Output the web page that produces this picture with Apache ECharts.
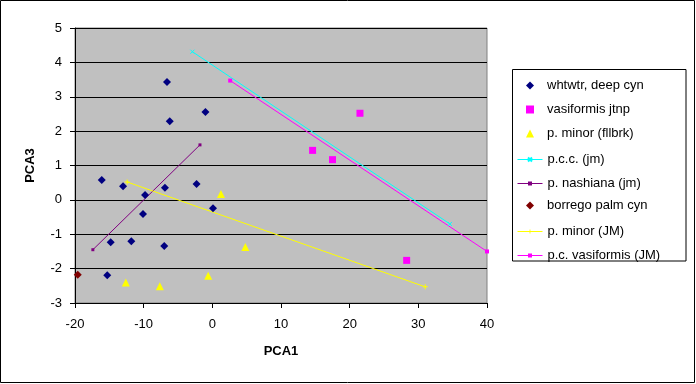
<!DOCTYPE html>
<html>
<head>
<meta charset="utf-8">
<script src="https://cdn.jsdelivr.net/npm/echarts@6/dist/echarts.min.js"></script>
<style>html,body{margin:0;padding:0;background:#fff}#c{width:696px;height:384px}</style>
</head>
<body>
<div id="c"></div>
<script>
const seriesNames = ['whtwtr, deep cyn','vasiformis jtnp','p. minor (fllbrk)','p.c.c. (jm)','p. nashiana (jm)','borrego palm cyn','p. minor (JM)','p.c. vasiformis (JM)'];
const xTicks = [-20,-10,0,10,20,30,40];
const yTicks = [-3,-2,-1,0,1,2,3,4,5];

const whtwtr = [[-6.6,3.43],[-1.0,2.56],[-6.2,2.29],[-16.1,0.58],[-13.0,0.40],[-6.9,0.35],[-2.3,0.46],[-9.8,0.14],[0.1,-0.24],[-10.1,-0.41],[-14.8,-1.23],[-11.8,-1.20],[-7.0,-1.34],[-15.3,-2.19]];
const vasiJtnp = [[21.5,2.52],[14.6,1.44],[17.5,1.17],[28.3,-1.76]];
const minorFllbrk = [[1.25,0.17],[4.8,-1.37],[-0.6,-2.21],[-12.6,-2.40],[-7.65,-2.51]];
const pccJm = [[-2.9,4.31],[34.6,-0.70]];
const nashianaJm = [[-17.4,-1.45],[-1.8,1.60]];
const borrego = [[-19.6,-2.18]];
const minorJM = [[-12.4,0.52],[31.0,-2.53]];
const pcVasiJM = [[2.6,3.47],[40.0,-1.50]];

const font = 'Liberation Sans, Arial, sans-serif';
const crossPath = 'path://M0,0L10,10M10,0L0,10';
const plusPath = 'path://M4,0H6V4H10V6H6V10H4V6H0V4H4Z';

function lineSeries(name, data, color, symbol, size) {
  return {name, type:'line', data, symbol, symbolSize:size, showSymbol:true,
    lineStyle:{color, width:1}, itemStyle:{color, borderColor:color, borderWidth: symbol===crossPath?1:0},
    emphasis:{disabled:true}, z:3, animation:false};
}
function scatterSeries(name, data, color, symbol, size) {
  return {name, type:'scatter', data, symbol, symbolSize:size, itemStyle:{color, opacity:1},
    emphasis:{disabled:true}, z:4, animation:false};
}

const series = [
  scatterSeries(seriesNames[0], whtwtr, '#000080', 'diamond', 8),
  scatterSeries(seriesNames[1], vasiJtnp, '#FF00FF', 'rect', 7),
  scatterSeries(seriesNames[2], minorFllbrk, '#FFFF00', 'triangle', 8),
  lineSeries(seriesNames[3], pccJm, '#00FFFF', crossPath, 4),
  lineSeries(seriesNames[4], nashianaJm, '#800080', 'rect', 3),
  scatterSeries(seriesNames[5], borrego, '#800000', 'diamond', 8),
  lineSeries(seriesNames[6], minorJM, '#FFFF00', plusPath, 5),
  lineSeries(seriesNames[7], pcVasiJM, '#FF00FF', 'rect', 4)
];

const isLine = [false,false,false,true,true,false,true,true];
const legends = seriesNames.map((n,i) => {
  const cy = 83 + 24*i;
  const line = isLine[i];
  const h = line ? 5 : 8;
  return {data:[n], left: line ? 517 : 526, top: line ? cy - 2 : cy - 4, padding:0,
    itemWidth: line ? 25 : 8, itemHeight:h, selectedMode:false,
    lineStyle:{width:1},
    textStyle:{fontFamily:font, fontSize:13, color:'#000', padding:[0,0,0, line ? 0 : 8]}};
});

const chart = echarts.init(document.getElementById('c'), null, {renderer:'canvas'});
chart.setOption({
  animation:false,
  backgroundColor:'#fff',
  grid:{left:75, top:28, right:209, bottom:81, show:true, backgroundColor:'#C0C0C0', borderColor:'#808080', borderWidth:1, containLabel:false},
  xAxis:{type:'value', min:xTicks[0], max:xTicks[xTicks.length-1], interval:10,
    name:'PCA1', nameLocation:'middle', nameGap:42,
    nameTextStyle:{fontFamily:font, fontSize:13, fontWeight:'bold', color:'#000'},
    axisLine:{show:true, onZero:false, lineStyle:{color:'#000', width:1}},
    axisTick:{show:true, inside:false, length:5, lineStyle:{color:'#000'}},
    axisLabel:{fontFamily:font, fontSize:13, color:'#000', margin:15},
    splitLine:{show:false}},
  yAxis:{type:'value', min:yTicks[0], max:yTicks[yTicks.length-1], interval:1,
    name:'PCA3', nameLocation:'middle', nameGap:38, nameRotate:90,
    nameTextStyle:{fontFamily:font, fontSize:13, fontWeight:'bold', color:'#000'},
    axisLine:{show:true, onZero:false, lineStyle:{color:'#000', width:1}},
    axisTick:{show:true, inside:false, length:5, lineStyle:{color:'#000'}},
    axisLabel:{fontFamily:font, fontSize:13, color:'#000', margin:13},
    splitLine:{show:true, lineStyle:{color:'#000', width:1}}},
  legend: legends,
  graphic:[
    {type:'rect', shape:{x:0.5, y:0.5, width:694, height:382}, style:{fill:'none', stroke:'#000', lineWidth:1}, silent:true},
    {type:'rect', shape:{x:512.5, y:69.5, width:173.5, height:191.5}, style:{fill:'none', stroke:'#000', lineWidth:1}, silent:true}
  ],
  series
});
</script>
</body>
</html>
